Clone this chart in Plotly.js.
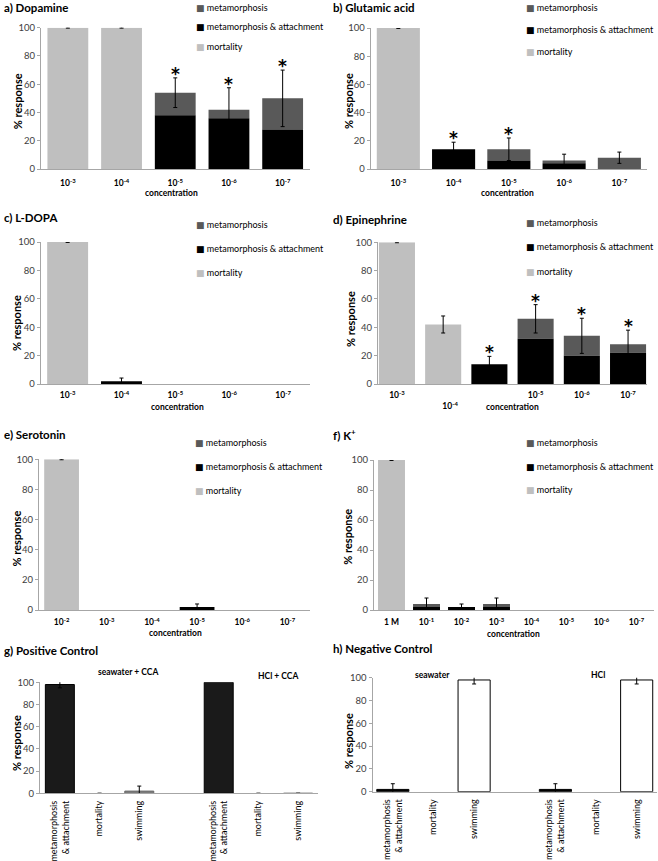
<!DOCTYPE html>
<html><head><meta charset="utf-8">
<script src="https://cdn.plot.ly/plotly-3.0.1.min.js"></script>
<style>html,body{margin:0;padding:0;background:#fff}#chart{width:658px;height:861px}</style>
</head><body><div id="chart"></div>
<script>
// ---------------- DATA ----------------
// a) Dopamine
const dopConc = ['10<sup>-3</sup>','10<sup>-4</sup>','10<sup>-5</sup>','10<sup>-6</sup>','10<sup>-7</sup>'];
const dopMeta = [0,0,16,6,22];
const dopAttach = [0,0,38,36,28];
const dopMort = [100,100,0,0,0];
const dopErr = [null,null,10.5,15.5,20];
const dopMortErr = [0.3,0.3,null,null,null];
const dopSig = [0,0,1,1,1];
// b) Glutamic acid
const gluConc = ['10<sup>-3</sup>','10<sup>-4</sup>','10<sup>-5</sup>','10<sup>-6</sup>','10<sup>-7</sup>'];
const gluMeta = [0,0,8,2,8];
const gluAttach = [0,14,6,4,0];
const gluMort = [100,0,0,0,0];
const gluErr = [null,5,8,4.5,4];
const gluMortErr = [0.3,null,null,null,null];
const gluSig = [0,1,1,0,0];
// c) L-DOPA
const ldConc = ['10<sup>-3</sup>','10<sup>-4</sup>','10<sup>-5</sup>','10<sup>-6</sup>','10<sup>-7</sup>'];
const ldMeta = [0,0,0,0,0];
const ldAttach = [0,2,0,0,0];
const ldMort = [100,0,0,0,0];
const ldErr = [null,2.2,null,null,null];
const ldMortErr = [0.3,null,null,null,null];
const ldSig = [0,0,0,0,0];
// d) Epinephrine (10^-4 has two bars: mortality and metamorphosis & attachment)
const epiConc = ['10<sup>-3</sup>','10<sup>-4</sup>','10<sup>-4</sup>','10<sup>-5</sup>','10<sup>-6</sup>','10<sup>-7</sup>'];
const epiMeta = [0,0,0,14,14,6];
const epiAttach = [0,0,14,32,20,22];
const epiMort = [100,42,0,0,0,0];
const epiErr = [null,null,5.5,10,12.4,10];
const epiMortErr = [0.3,6,null,null,null,null];
const epiSig = [0,0,1,1,1,1];
// e) Serotonin
const serConc = ['10<sup>-2</sup>','10<sup>-3</sup>','10<sup>-4</sup>','10<sup>-5</sup>','10<sup>-6</sup>','10<sup>-7</sup>'];
const serMeta = [0,0,0,0,0,0];
const serAttach = [0,0,0,2,0,0];
const serMort = [100,0,0,0,0,0];
const serErr = [null,null,null,2,null,null];
const serMortErr = [0.3,null,null,null,null,null];
const serSig = [0,0,0,0,0,0];
// f) K+
const kConc = ['1 M','10<sup>-1</sup>','10<sup>-2</sup>','10<sup>-3</sup>','10<sup>-4</sup>','10<sup>-5</sup>','10<sup>-6</sup>','10<sup>-7</sup>'];
const kMeta = [0,2,0,2,0,0,0,0];
const kAttach = [0,2,2,2,0,0,0,0];
const kMort = [100,0,0,0,0,0,0,0];
const kErr = [null,4,2,4,null,null,null,null];
const kMortErr = [0.3,null,null,null,null,null,null,null];
const kSig = [0,0,0,0,0,0,0,0];
// g/h) Controls
const ctrlLabels = ['metamorphosis<br>&amp; attachment','mortality','swimming','','metamorphosis<br>&amp; attachment','mortality','swimming'];
const ctrlKind = ['attach','mortality','swimming',null,'attach','mortality','swimming'];
const posValues = [98,0,2,null,100,0,0];
const posErr = [3,0,4.5,null,null,0,0];
const negValues = [2,0,98,null,2,0,98];
const negErr = [5,null,3.5,null,5,null,3.5];
const legendNames = ['metamorphosis','metamorphosis &amp; attachment','mortality'];

// ---------------- STYLE / LAYOUT ----------------
const W = 658, H = 861;
const px = v => v / W, py = v => 1 - v / H;
const FONT = 'Lato, "Open Sans", "DejaVu Sans", sans-serif';
const C_META = '#595959', C_ATT = '#000000', C_MORT = '#bfbfbf';
const AXC = '#a6a6a6';
const CLEAR = 'rgba(0,0,0,0)';

const traces = [];
const annotations = [];
const layout = {
  width: W, height: H, margin: {l:0, r:0, t:0, b:0},
  paper_bgcolor: '#fff', plot_bgcolor: CLEAR,
  showlegend: false, barmode: 'overlay',
  font: {family: FONT, color: '#000'},
  annotations: annotations
};

function keys(n) { const s = n === 1 ? '' : String(n); return {xa:'xaxis'+s, ya:'yaxis'+s, xr:'x'+s, yr:'y'+s}; }

function ann(text, x, y, opt) {
  annotations.push(Object.assign({text, x: px(x), y: py(y), xref:'paper', yref:'paper', showarrow:false,
    xanchor:'left', yanchor:'middle', font:{family:FONT, size:9, color:'#000'}}, opt || {}));
}

function axes(n, box, range, tickvals, ticktext, xfont, standoff, tickangle) {
  const k = keys(n);
  layout[k.xa] = {domain:[px(box[0]), px(box[1])], range, anchor:k.yr, showline:true, linecolor:AXC, linewidth:1,
    showgrid:false, zeroline:false, ticks:'', tickmode:'array', tickvals, ticktext, tickfont:xfont,
    tickangle: tickangle === undefined ? 0 : tickangle, ticklabelstandoff: standoff, fixedrange:true};
  layout[k.ya] = {domain:[py(box[3]), py(box[2])], range:[0,100], anchor:k.xr, showline:true, linecolor:AXC, linewidth:1,
    showgrid:false, zeroline:false, ticks:'outside', ticklen:3, tickcolor:AXC, tickmode:'array',
    tickvals:[0,20,40,60,80,100], tickfont:{family:FONT, size:9.5, color:'#404040'}, fixedrange:true};
}

// missing error values (null) must not be drawn: Plotly would coerce null to 0
function errStyle(arr) {
  return {type:'data', array:arr.map(v => v === null ? NaN : v), visible:true, color:'#000', thickness:1, width:2};
}

function concPanel(c) {
  const k = keys(c.n);
  const idx = c.labels.map((_, i) => i);
  traces.push({type:'bar', x:idx, y:c.meta, base:c.attach, width:c.w, xaxis:k.xr, yaxis:k.yr,
    marker:{color:C_META}, error_y:errStyle(c.err), hoverinfo:'skip'});
  traces.push({type:'bar', x:idx, y:c.attach, width:c.w, xaxis:k.xr, yaxis:k.yr,
    marker:{color:C_ATT}, hoverinfo:'skip'});
  traces.push({type:'bar', x:idx, y:c.mort, width:c.w, xaxis:k.xr, yaxis:k.yr,
    marker:{color:C_MORT}, error_y:errStyle(c.mortErr), hoverinfo:'skip'});
  c.sig.forEach((s, i) => {
    if (!s) return;
    annotations.push({text:'*', x:i, y:c.meta[i] + c.attach[i] + c.mort[i] + (c.err[i] || 0), xref:k.xr, yref:k.yr,
      showarrow:false, xanchor:'center', yanchor:'bottom', yshift:-8, font:{family:'"DejaVu Sans", sans-serif', size:17, color:'#000000', weight:'bold'}});
  });
  axes(c.n, c.box, c.range, c.tickvals || idx, c.ticktext || c.labels,
       {family:FONT, size:8.5, color:'#000', weight:'bold'}, c.standoff);
  ann(c.title, c.titleXY[0], c.titleXY[1], {font:{family:FONT, size:11.5, color:'#000', weight:'bold'}});
  ann('% response', c.yTitle[0], c.yTitle[1], {xanchor:'center', textangle:-90, font:{family:FONT, size:11, color:'#000', weight:'bold'}});
  ann('concentration', c.concXY[0], c.concXY[1], {xanchor:'center', font:{family:FONT, size:8.5, color:'#000', weight:'bold'}});
  const cols = [C_META, C_ATT, C_MORT];
  legendNames.forEach((nm, i) => {
    ann('<span style="color:' + cols[i] + '">■</span> ' + nm, c.leg[0], c.leg[1][i], {font:{family:FONT, size:9, color:'#000'}});
  });
}

concPanel({n:1, title:'a) Dopamine', labels:dopConc, meta:dopMeta, attach:dopAttach, mort:dopMort, err:dopErr, mortErr:dopMortErr, sig:dopSig,
  box:[41,309.5,27.7,169], range:[-0.5,4.5], w:0.76, standoff:6, titleXY:[2,7], yTitle:[17.5,101.7], concXY:[171.7,193.3], leg:[194,[7,27,47]]});
concPanel({n:2, title:'b) Glutamic acid', labels:gluConc, meta:gluMeta, attach:gluAttach, mort:gluMort, err:gluErr, mortErr:gluMortErr, sig:gluSig,
  box:[370.7,647,28,169], range:[-0.5,4.5], w:0.78, standoff:6, titleXY:[331,7.5], yTitle:[348,101], concXY:[507,193.3], leg:[524,[7.3,29.3,51.7]]});
concPanel({n:3, title:'c) L-DOPA', labels:ldConc, meta:ldMeta, attach:ldAttach, mort:ldMort, err:ldErr, mortErr:ldMortErr, sig:ldSig,
  box:[40.7,310,242,384], range:[-0.5,4.5], w:0.76, standoff:3, titleXY:[2,218], yTitle:[16,323], concXY:[177,407], leg:[194,[224,248.3,272.7]]});
concPanel({n:4, title:'d) Epinephrine', labels:epiConc, meta:epiMeta, attach:epiAttach, mort:epiMort, err:epiErr, mortErr:epiMortErr, sig:epiSig,
  box:[378,647,242.3,384], range:[-0.41,5.41], w:0.78, standoff:3,
  tickvals:[0,1.15,3,4,5], ticktext:[epiConc[0],'&nbsp;<br>'+epiConc[1],epiConc[3],epiConc[4],epiConc[5]],
  titleXY:[331,219], yTitle:[350,319], concXY:[512,407], leg:[524,[222.3,246.7,271]]});
concPanel({n:5, title:'e) Serotonin', labels:serConc, meta:serMeta, attach:serAttach, mort:serMort, err:serErr, mortErr:serMortErr, sig:serSig,
  box:[39,310,459.3,610], range:[-0.5,5.5], w:0.77, standoff:4, titleXY:[2,435], yTitle:[15.5,539], concXY:[175,633], leg:[193,[442.3,466,490.7]]});
concPanel({n:6, title:'f) K<sup>+</sup>', labels:kConc, meta:kMeta, attach:kAttach, mort:kMort, err:kErr, mortErr:kMortErr, sig:kSig,
  box:[374,654,460,610], range:[-0.5,7.5], w:0.77, standoff:4, titleXY:[331,435], yTitle:[348,536.7], concXY:[513.7,634], leg:[524,[442,466.7,489.3]]});

// control panels
const ctrlStyle = {
  pos: {attach:['#1a1a1a','#000'], mortality:[CLEAR,CLEAR], swimming:['#808080','#6a6a6a']},
  neg: {attach:['#000','#000'], mortality:[CLEAR,CLEAR], swimming:['#ffffff','#000']}
};
function ctrlPanel(c) {
  const k = keys(c.n);
  const idx = ctrlLabels.map((_, i) => i);
  const st = ctrlStyle[c.style];
  traces.push({type:'bar', x:idx, y:c.values, width:c.w, xaxis:k.xr, yaxis:k.yr,
    marker:{color:ctrlKind.map(t => t ? st[t][0] : CLEAR), line:{color:ctrlKind.map(t => t ? st[t][1] : CLEAR), width:1}},
    error_y:errStyle(c.err), hoverinfo:'skip'});
  axes(c.n, c.box, [-0.5,6.5], idx, ctrlLabels, {family:FONT, size:9, color:'#000'}, 3, -90);
  ann(c.title, c.titleXY[0], c.titleXY[1], {font:{family:FONT, size:11.5, color:'#000', weight:'bold'}});
  ann('% response', c.yTitle[0], c.yTitle[1], {xanchor:'center', textangle:-90, font:{family:FONT, size:11, color:'#000', weight:'bold'}});
  c.groups.forEach(g => ann(g[0], g[1], g[2], {xanchor:'center', font:{family:FONT, size:8.5, color:'#000', weight:'bold'}}));
}
ctrlPanel({n:7, title:'g) Positive Control', values:posValues, err:posErr, style:'pos', w:0.73,
  box:[40,318,682.3,793.3], titleXY:[2,650], yTitle:[16,743], groups:[['seawater + CCA',128,672],['HCl + CCA',278,676]]});
ctrlPanel({n:8, title:'h) Negative Control', values:negValues, err:negErr, style:'neg', w:0.79,
  box:[372.5,657,677.7,791.7], titleXY:[331,648], yTitle:[348,741], groups:[['seawater',432,675],['HCl',598,675]]});

Plotly.newPlot('chart', traces, layout, {staticPlot:true, displayModeBar:false});
</script>
</body></html>
